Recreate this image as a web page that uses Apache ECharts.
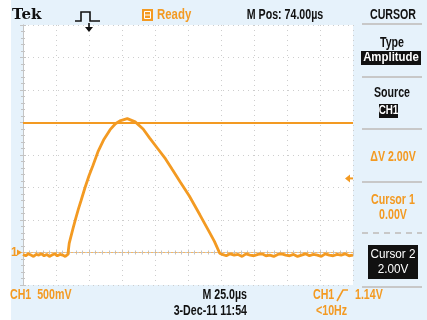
<!DOCTYPE html>
<html><head><meta charset="utf-8">
<script src="https://cdn.jsdelivr.net/npm/echarts@6/dist/echarts.min.js"></script>
<style>
html,body{margin:0;padding:0;background:#fff}
#c{width:427px;height:320px;background:linear-gradient(to right,#fff 0,#fff 11px,#e6f2fb 11px,#e6f2fb 100%)}
</style>
</head><body><div id="c"></div><script>
// ---- data ----
const timeUs = [0,2,4,6,8,10,12,14,16,18,20,22,24,26,28,30,32,34,
  35,36,38,40,42,44,47,50,53,57,61,66,70,74,79,85,91,96,102,108,113,119,126,134,141,145,149,
  151,154,157,160,163,166,169,172,175,178,181,184,187,190,193,196,199,202,205,208,211,214,217,220,223,226,229,232,235,238,241,244,247,250];
const ch1Volts = [-0.03,-0.05,-0.02,-0.04,-0.06,-0.03,-0.04,-0.02,-0.05,-0.03,-0.06,-0.04,-0.02,-0.05,-0.03,-0.04,-0.06,-0.03,
  0.14,0.22,0.38,0.53,0.67,0.80,1.00,1.18,1.34,1.56,1.73,1.89,1.98,2.03,2.06,2.01,1.90,1.76,1.60,1.44,1.28,1.09,0.87,0.58,0.32,0.17,-0.01,
  -0.03,-0.05,-0.02,-0.04,-0.03,-0.06,-0.02,-0.04,-0.05,-0.03,-0.02,-0.05,-0.04,-0.06,-0.03,-0.02,-0.04,-0.05,-0.03,-0.06,-0.04,-0.02,-0.05,-0.03,-0.04,-0.06,-0.02,-0.04,-0.05,-0.03,-0.04,-0.02,-0.05,-0.04];
const cursor1Volts = 0.00;
const cursor2Volts = 2.00;
const triggerVolts = 1.14;
const triggerTimeUs = 50;
const timeAxis = [0, 250, 25];     // min, max, interval (µs, 25 µs/div)
const voltAxis = [-0.5, 3.5, 0.5]; // min, max, interval (V, 500 mV/div)

const ORANGE = '#f39a22';
const F = "'Liberation Sans',Arial,sans-serif";
const chart = echarts.init(document.getElementById('c'), null, {renderer:'canvas'});

const points = timeUs.map((t,i)=>[t, ch1Volts[i]]);
const borderAxis = {
  axisLine:{show:true,lineStyle:{color:'#c4c4c4',width:1}},
  axisTick:{show:true,inside:true,length:3,lineStyle:{color:'#c4c4c4'}},
  minorTick:{show:true,splitNumber:5,length:2,lineStyle:{color:'#c4c4c4'}},
  axisLabel:{show:false}
};
function xA(pos, split){
  return Object.assign({type:'value',position:pos,min:timeAxis[0],max:timeAxis[1],interval:timeAxis[2],
    splitLine:{show:split,lineStyle:{color:'#cdcdcd',type:[1,4],width:1}}}, JSON.parse(JSON.stringify(borderAxis)));
}
function yA(pos, split){
  return Object.assign({type:'value',position:pos,min:voltAxis[0],max:voltAxis[1],interval:voltAxis[2],
    splitLine:{show:split,lineStyle:{color:'#cdcdcd',type:[1,4],width:1}}}, JSON.parse(JSON.stringify(borderAxis)));
}
function txt(text,x,y,opt){
  opt = opt||{};
  return {type:'text',z:20,x:x,y:y,scaleX:(opt.sx===undefined?0.76:opt.sx),
    style:{text:text,x:0,y:0,fill:opt.fill||'#111',
    font:(opt.weight||'bold')+' '+(opt.size||14)+'px '+(opt.family||F),
    textAlign:opt.align||'left',textVerticalAlign:'middle'}};
}
function rect(x,y,w,h,fill){return {type:'rect',z:15,shape:{x:x,y:y,width:w,height:h},style:{fill:fill}};}
function hline(x1,x2,y,color,dash,w){return {type:'line',z:15,shape:{x1:x1,y1:y,x2:x2,y2:y},style:{stroke:color,lineWidth:w||2,lineDash:dash||null}};}

chart.setOption({
  animation:false,
  backgroundColor:'transparent',
  grid:{left:23,right:74,top:25,bottom:35,show:true,backgroundColor:'#ffffff',borderWidth:0},
  xAxis:[xA('bottom',true), xA('top',false)],
  yAxis:[yA('left',true), yA('right',false)],
  series:[{
    type:'line',data:points,showSymbol:false,symbol:'none',
    lineStyle:{color:ORANGE,width:2.8},z:5,
    markLine:{silent:true,symbol:'none',label:{show:false},animation:false,
      data:[
        {yAxis:cursor1Volts,lineStyle:{color:'#f6b866',width:1,type:[2,2]}},
        {yAxis:cursor2Volts,lineStyle:{color:ORANGE,width:2,type:'solid'}}
      ]}
  }]
});

const g = chart.convertToPixel({gridIndex:0},[triggerTimeUs, cursor1Volts]);
const tl = chart.convertToPixel({gridIndex:0},[timeAxis[1], triggerVolts]);
const gx = chart.convertToPixel({gridIndex:0},[timeAxis[0], cursor1Volts]);

const graphics = [
  // top bar
  txt('Tek',12,15,{size:15,sx:1,family:"'DejaVu Serif','Liberation Serif',serif"}),
  {type:'polyline',z:20,shape:{points:[[75,21],[81,21],[81,12],[90,12],[90,21],[100,21]]},style:{stroke:'#111',lineWidth:1.6,fill:null}},
  {type:'line',z:20,shape:{x1:g[0],y1:23,x2:g[0],y2:28},style:{stroke:'#111',lineWidth:1.6}},
  {type:'polygon',z:20,shape:{points:[[g[0]-4,27],[g[0]+4,27],[g[0],32]]},style:{fill:'#111'}},
  rect(142,9,11,12,ORANGE),
  {type:'rect',z:16,shape:{x:144.5,y:11.5,width:6,height:7},style:{fill:null,stroke:'#fff',lineWidth:1}},
  hline(145,150,15,'#fff',null,1),
  txt('Ready',157,15,{fill:ORANGE,size:15}),
  txt('M Pos: 74.00\u00b5s',285,15,{align:'center'}),
  txt('CURSOR',393,15,{align:'center'}),
  hline(362,422,24,'#c8c8c8'),
  // right panel
  txt('Type',392,43,{align:'center'}),
  rect(361,51,60,14,'#111'),
  txt('Amplitude',391,58,{align:'center',size:12,sx:0.95,fill:'#fff'}),
  hline(362,422,77,'#c8c8c8'),
  txt('Source',392,93,{align:'center'}),
  rect(379,104,19,14,'#111'),
  txt('CH1',388.5,111,{align:'center',size:12,sx:0.82,fill:'#fff'}),
  hline(362,422,129,'#c8c8c8'),
  txt('\u0394V 2.00V',393,157,{align:'center',fill:ORANGE}),
  hline(362,422,182,'#c8c8c8'),
  txt('Cursor 1',393,200,{align:'center',fill:ORANGE}),
  txt('0.00V',393,215,{align:'center',fill:ORANGE}),
  hline(362,422,233,'#c8c8c8',[6,5]),
  rect(368,245,50,34,'#111'),
  txt('Cursor 2',393,254,{align:'center',fill:'#fff',weight:'normal',size:13,sx:0.9}),
  txt('2.00V',393,269,{align:'center',fill:'#fff',weight:'normal',size:13,sx:0.9}),
  hline(362,422,287,'#c8c8c8'),
  // markers
  txt('1',11,gx[1],{size:13,sx:0.9,fill:ORANGE}),
  {type:'polygon',z:20,shape:{points:[[17,gx[1]-3],[22,gx[1]],[17,gx[1]+3]]},style:{fill:ORANGE}},
  {type:'polygon',z:20,shape:{points:[[tl[0]-8,tl[1]],[tl[0]-3,tl[1]-4],[tl[0]-3,tl[1]+4]]},style:{fill:ORANGE}},
  {type:'line',z:20,shape:{x1:tl[0]-4,y1:tl[1],x2:tl[0],y2:tl[1]},style:{stroke:ORANGE,lineWidth:2}},
  // bottom bar
  txt('CH1  500mV',10,295,{fill:ORANGE}),
  txt('M 25.0\u00b5s',247,295,{align:'right'}),
  txt('3-Dec-11 11:54',247,311,{align:'right'}),
  txt('CH1',313,295,{fill:ORANGE}),
  {type:'polyline',z:20,shape:{points:[[337,301],[343,290],[348,290]]},style:{stroke:ORANGE,lineWidth:1.6,fill:null}},
  txt('1.14V',355,295,{fill:ORANGE}),
  txt('<10Hz',316,311,{fill:ORANGE})
];
chart.setOption({graphic:{elements:graphics}});
</script></body></html>
